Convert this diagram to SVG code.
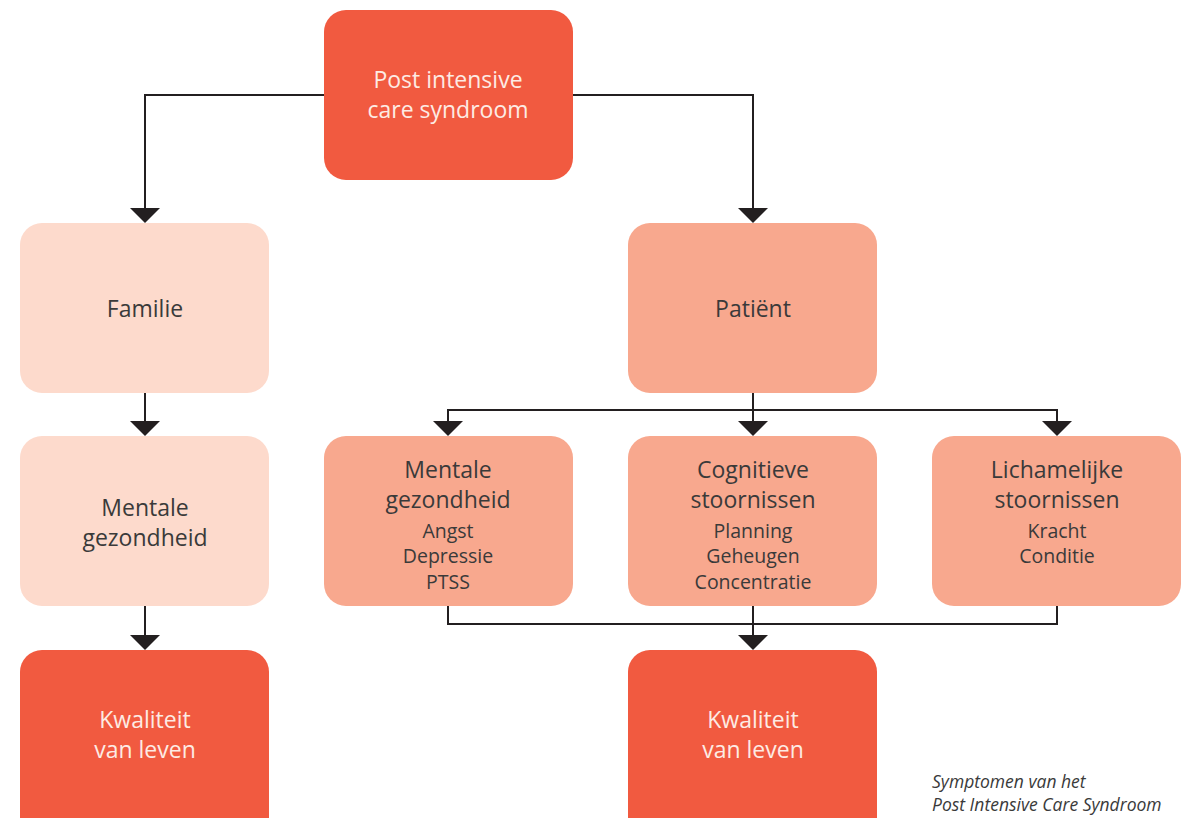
<svg xmlns="http://www.w3.org/2000/svg" width="1186" height="818" viewBox="0 0 1186 818">
<defs>
<style>
.dark{fill:#F15A40}
.mid{fill:#F8A88E}
.light{fill:#FDDACC}
.ah{fill:#231F20}
text{font-family:"Open Sans","Liberation Sans",sans-serif;text-anchor:middle}
.t{font-size:23px;fill:#3A3A3A}
.tw{font-size:23px;fill:#FDEBE4}
.s{font-size:19.5px;fill:#3A3A3A}
.cap{font-size:17.5px;font-style:italic;fill:#3A3A3A;text-anchor:start}
.c{fill:none;stroke:#231F20;stroke-width:2}
</style>
</defs>
<rect width="1186" height="818" fill="#ffffff"/>
<g id="connectors">
<path class="c" d="M324,95 H145 V208"/>
<path class="ah" d="M130,208 L160,208 L145,223 Z"/>
<path class="c" d="M573,95 H753 V208"/>
<path class="ah" d="M738,208 L768,208 L753,223 Z"/>
<path class="c" d="M145,393 V421"/>
<path class="ah" d="M130,421 L160,421 L145,436 Z"/>
<path class="c" d="M145,606 V635"/>
<path class="ah" d="M130,635 L160,635 L145,650 Z"/>
<path class="c" d="M753,393 V421 M448,421 V410 H1057 V421"/>
<path class="ah" d="M433,421 L463,421 L448,436 Z"/>
<path class="ah" d="M738,421 L768,421 L753,436 Z"/>
<path class="ah" d="M1042,421 L1072,421 L1057,436 Z"/>
<path class="c" d="M448,606 V624 H1057 V606 M753,606 V635"/>
<path class="ah" d="M738,635 L768,635 L753,650 Z"/>
</g>
<g id="pics">
<rect class="dark" x="324" y="10" width="249" height="170" rx="22"/>
<text class="tw" x="448" y="88">Post intensive</text>
<text class="tw" x="448" y="118">care syndroom</text>
</g>
<g id="familie">
<rect class="light" x="20" y="223" width="249" height="170" rx="22"/>
<text class="t" x="145" y="317">Familie</text>
</g>
<g id="patient">
<rect class="mid" x="628" y="223" width="249" height="170" rx="22"/>
<text class="t" x="753" y="317">Patiënt</text>
</g>
<g id="familie-mentaal">
<rect class="light" x="20" y="436" width="249" height="170" rx="22"/>
<text class="t" x="145" y="516">Mentale</text>
<text class="t" x="145" y="546">gezondheid</text>
</g>
<g id="patient-mentaal">
<rect class="mid" x="324" y="436" width="249" height="170" rx="22"/>
<text class="t" x="448" y="478">Mentale</text>
<text class="t" x="448" y="508">gezondheid</text>
<text class="s" x="448" y="538">Angst</text>
<text class="s" x="448" y="563">Depressie</text>
<text class="s" x="448" y="589">PTSS</text>
</g>
<g id="cognitief">
<rect class="mid" x="628" y="436" width="249" height="170" rx="22"/>
<text class="t" x="753" y="478">Cognitieve</text>
<text class="t" x="753" y="508">stoornissen</text>
<text class="s" x="753" y="538">Planning</text>
<text class="s" x="753" y="563">Geheugen</text>
<text class="s" x="753" y="589">Concentratie</text>
</g>
<g id="lichamelijk">
<rect class="mid" x="932" y="436" width="249" height="170" rx="22"/>
<text class="t" x="1057" y="478">Lichamelijke</text>
<text class="t" x="1057" y="508">stoornissen</text>
<text class="s" x="1057" y="538">Kracht</text>
<text class="s" x="1057" y="563">Conditie</text>
</g>
<g id="kwaliteit-familie">
<rect class="dark" x="20" y="650" width="249" height="190" rx="22"/>
<text class="tw" x="145" y="728">Kwaliteit</text>
<text class="tw" x="145" y="758">van leven</text>
</g>
<g id="kwaliteit-patient">
<rect class="dark" x="628" y="650" width="249" height="190" rx="22"/>
<text class="tw" x="753" y="728">Kwaliteit</text>
<text class="tw" x="753" y="758">van leven</text>
</g>
<g id="caption">
<text class="cap" x="932" y="788">Symptomen van het</text>
<text class="cap" x="932" y="811">Post Intensive Care Syndroom</text>
</g>
</svg>
